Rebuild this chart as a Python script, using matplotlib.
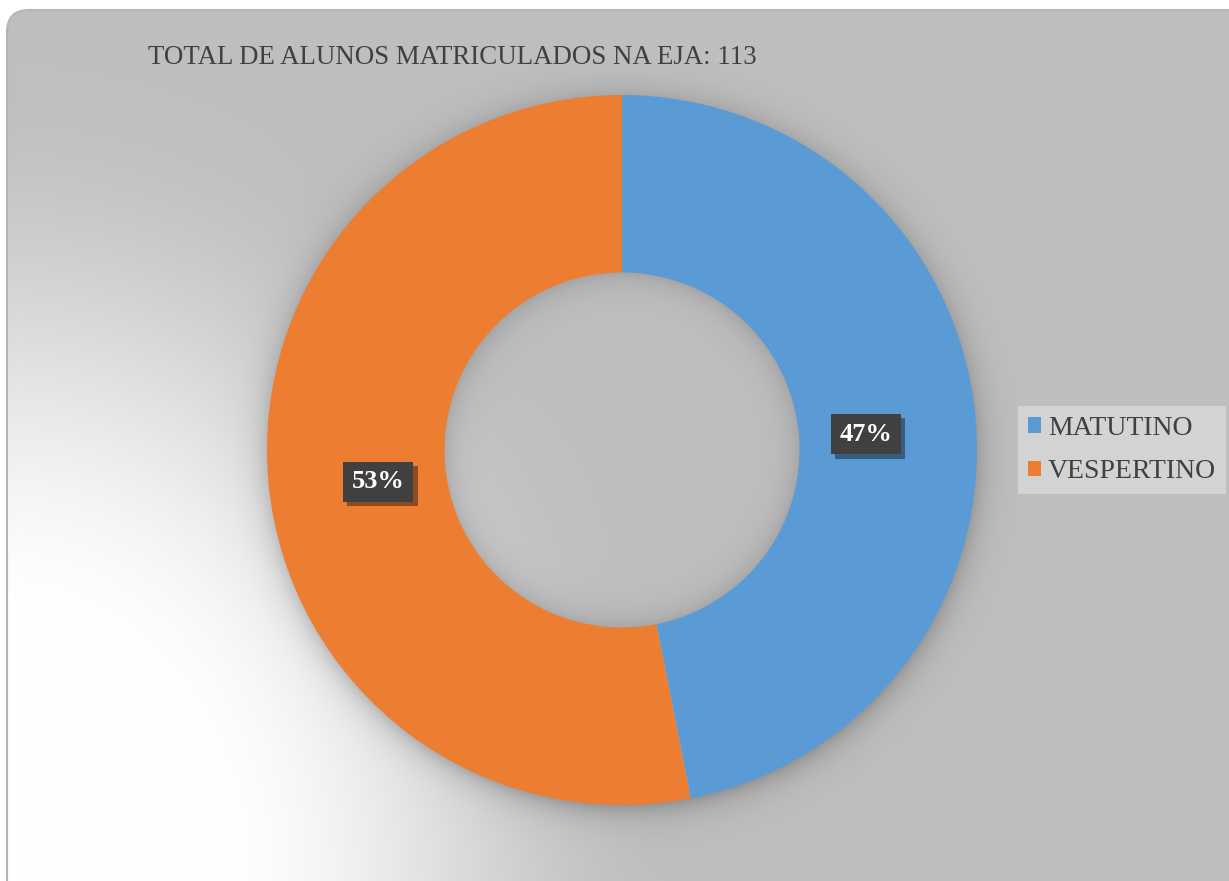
import numpy as np
import matplotlib
matplotlib.use("Agg")
import matplotlib.pyplot as plt
import matplotlib.transforms as mtransforms
from matplotlib.patches import FancyBboxPatch
from matplotlib import patheffects

# data
turnos = ["MATUTINO", "VESPERTINO"]
alunos = [53, 60]
cores = ["#5B9BD5", "#ED7D31"]
titulo = "TOTAL DE ALUNOS MATRICULADOS NA EJA: 113"

W, H = 1229, 881
plt.rcParams["font.family"] = ["Liberation Serif", "DejaVu Serif"]

fig = plt.figure(figsize=(W / 100, H / 100), dpi=100, facecolor="white")

# background: gray with light corner at bottom left + donut shadow
cx, cy, ro, ri = 622, 450, 355, 177.5
yy, xx = np.mgrid[0:H, 0:W]
d = np.sqrt((xx / 680.0) ** 2 + ((H - yy) / 820.0) ** 2)
t = np.clip((d - 0.3) / 0.7, 0, 1)
t = t * t * (3 - 2 * t)
val = 255 - (255 - 191) * t
r_sh = np.sqrt((xx - cx) ** 2 + (yy - cy - 4) ** 2)
r = np.sqrt((xx - cx) ** 2 + (yy - cy) ** 2)
sh = np.where(r > ro - 10, 0.22 * np.exp(-np.maximum(r_sh - ro + 4, 0) / 14.0), 0.0)
sh += np.where(r < ri + 5, 0.13 * np.exp(-np.maximum(ri - r, 0) / 14.0), 0.0)
val = val * (1 - sh)
img = np.dstack([val, val, val]) / 255.0

bg = fig.add_axes([0, 0, 1, 1])
bg.set_xlim(0, W)
bg.set_ylim(H, 0)
bg.axis("off")
frame = FancyBboxPatch((7, 10), W + 30, H + 30, boxstyle="round,pad=0,rounding_size=22",
                       fc="none", ec="#b5b5b5", lw=1.5, zorder=3)
bg.add_patch(frame)
im = bg.imshow(img, extent=(0, W, H, 0), aspect="auto", zorder=1)
im.set_clip_path(frame)

bg.text(148, 57, titulo, fontsize=19.4, color="#404040", va="center", ha="left", zorder=4)

# donut
ax = fig.add_axes([(cx - ro) / W, (H - cy - ro) / H, 2 * ro / W, 2 * ro / H])
ax.set_facecolor("none")
wedges, texts, autotexts = ax.pie(alunos, colors=cores, startangle=90, counterclock=False,
                                  radius=1, autopct="%1.0f%%", pctdistance=0.69,
                                  wedgeprops=dict(width=0.5, linewidth=0),
                                  textprops=dict(color="white", fontsize=19, fontweight="bold"))
ax.set_xlim(-1, 1)
ax.set_ylim(-1, 1)
nudge = mtransforms.ScaledTranslation(0, -8 / 100, fig.dpi_scale_trans)
for at in autotexts:
    at.set_transform(at.get_transform() + nudge)
    at.set_bbox(dict(boxstyle="square,pad=0.33", fc="#404040", ec="none"))
    at.get_bbox_patch().set_path_effects([
        patheffects.SimplePatchShadow(offset=(3, -3), shadow_rgbFace="black", alpha=0.4),
        patheffects.Normal()])

leg = fig.legend(wedges, turnos, loc="center left", bbox_to_anchor=(1018 / W, 1 - 450 / H),
                 frameon=True, fancybox=False, fontsize=20, handlelength=0.47, handleheight=0.47,
                 handletextpad=0.25, labelspacing=0.65, borderaxespad=0, borderpad=0.35)
leg.get_frame().set_facecolor("#d3d3d3")
leg.get_frame().set_edgecolor("none")
leg.get_frame().set_alpha(1)
for txt in leg.get_texts():
    txt.set_color("#404040")

fig.savefig("out.png", dpi=100, facecolor="white")
